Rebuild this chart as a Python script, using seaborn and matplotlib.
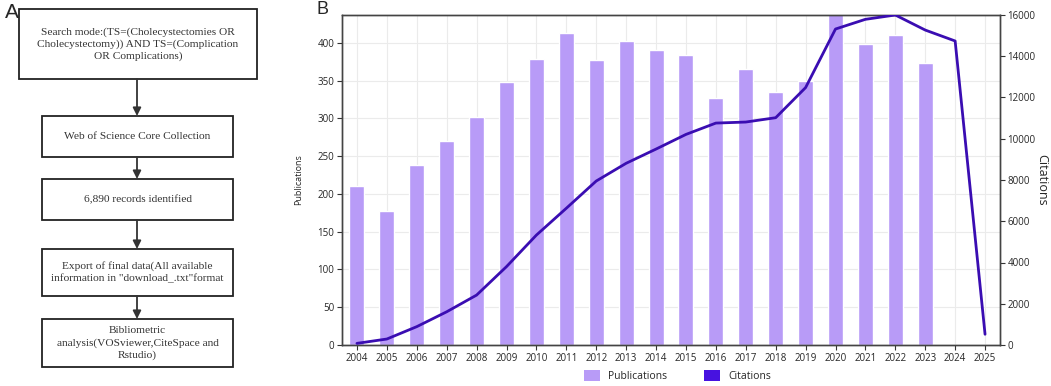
import numpy as np
import pandas as pd
import seaborn as sns
import matplotlib.pyplot as plt
from matplotlib.patches import Rectangle, Patch

# =============================================================================
# Data
# =============================================================================

years = [str(y) for y in range(2004, 2026)]
publications = [210, 177, 239, 270, 302, 348, 379, 413, 377, 403, 391,
                384, 327, 365, 335, 350, 445, 399, 410, 374, 0, 0]
citations = [80, 290, 890, 1610, 2420, 3800, 5330, 6630, 7950, 8810, 9500,
             10210, 10760, 10810, 11020, 12480, 15320, 15790, 16000, 15270,
             14740, 520]

flow_steps = [
    "Search mode:(TS=(Cholecystectomies OR\nCholecystectomy)) AND TS=(Complication\nOR Complications)",
    "Web of Science Core Collection",
    "6,890 records identified",
    "Export of final data(All available\ninformation in \"download_.txt\"format",
    "Bibliometric\nanalysis(VOSviewer,CiteSpace and\nRstudio)",
]

BAR_COLOR = "#b89bf7"
LINE_COLOR = "#3a0db2"
PATCH_COLOR = "#4712e0"

sns.set_theme(style="white")
plt.rcParams["font.family"] = ["Open Sans", "DejaVu Sans"]

fig = plt.figure(figsize=(10.51, 3.86), dpi=100)

# =============================================================================
# Panel A: flowchart
# =============================================================================

axa = fig.add_axes([0, 0, 280 / 1051, 1])
axa.set_xlim(0, 280)
axa.set_ylim(386, 0)
axa.axis("off")

# box extents in panel pixels: (x0, x1, y0, y1)
boxes = [(19, 257, 9, 79), (42, 233, 116, 157), (42, 233, 179, 220),
         (42, 233, 249, 296), (42, 233, 319, 367)]
cx = 137
for i, (txt, (x0, x1, y0, y1)) in enumerate(zip(flow_steps, boxes)):
    axa.add_patch(Rectangle((x0, y0), x1 - x0, y1 - y0, fill=False,
                            edgecolor="#222222", linewidth=1.3))
    axa.text((x0 + x1) / 2, (y0 + y1) / 2, txt, ha="center", va="center",
             fontsize=8.2, family="Liberation Serif", color="#333333",
             linespacing=1.35)
    if i < len(boxes) - 1:
        axa.annotate("", xy=(cx, boxes[i + 1][2]), xytext=(cx, y1),
                     arrowprops=dict(arrowstyle="-|>", color="#333333",
                                     lw=1.3, mutation_scale=12,
                                     shrinkA=0, shrinkB=0))

fig.text(5 / 1051, 1 - 12 / 386, "A", fontsize=15, family="Liberation Sans",
         va="center", ha="left")
fig.text(316 / 1051, 1 - 10 / 386, "B", fontsize=13, family="Liberation Sans",
         va="center", ha="left")

# =============================================================================
# Panel B: publications and citations
# =============================================================================

df = pd.DataFrame({"Year": years, "Publications": publications,
                   "Citations": citations})

ax = fig.add_axes([342 / 1051, 41 / 386, 658 / 1051, 330 / 386])
sns.barplot(data=df, x="Year", y="Publications", ax=ax, color=BAR_COLOR,
            width=0.5, saturation=1, zorder=2)
ax.set_xlim(-0.5, len(years) - 0.5)
ax.set_ylim(0, 437)
ax.set_yticks(np.arange(0, 401, 50))
ax.grid(True, color="#ebebeb", linewidth=0.8, zorder=0)
ax.set_axisbelow(True)
ax.set_xlabel("")
ax.set_ylabel("Publications", fontsize=6.5, labelpad=10)
ax.tick_params(axis="both", labelsize=7, length=3.5, width=0.8,
               direction="out", color="#333333", pad=2)
ax.tick_params(axis="x", bottom=True)
ax.tick_params(axis="y", left=True)
for s in ax.spines.values():
    s.set_color("#444444")
    s.set_linewidth(1.0)

ax2 = ax.twinx()
sns.lineplot(x=np.arange(len(years)), y=df["Citations"], ax=ax2,
             color=LINE_COLOR, linewidth=2, zorder=3)
ax2.set_ylim(0, 16000)
ax2.set_yticks(np.arange(0, 16001, 2000))
ax2.set_ylabel("Citations", fontsize=9, rotation=270, labelpad=9)
ax2.tick_params(axis="y", labelsize=7, length=3.5, width=0.8,
                direction="out", color="#333333", right=True, pad=2)
for s in ax2.spines.values():
    s.set_color("#444444")
    s.set_linewidth(1.0)

handles = [Patch(facecolor=BAR_COLOR, edgecolor="none"),
           Patch(facecolor=PATCH_COLOR, edgecolor="none")]
ax.legend(handles, ["Publications", "Citations"], loc="center",
          bbox_to_anchor=(0.51, -0.095), ncol=2, frameon=False, fontsize=7.5,
          handlelength=1.5, handleheight=1.2, columnspacing=3.5,
          handletextpad=0.8, borderpad=0)

fig.savefig("out.png", dpi=100)
plt.close(fig)
